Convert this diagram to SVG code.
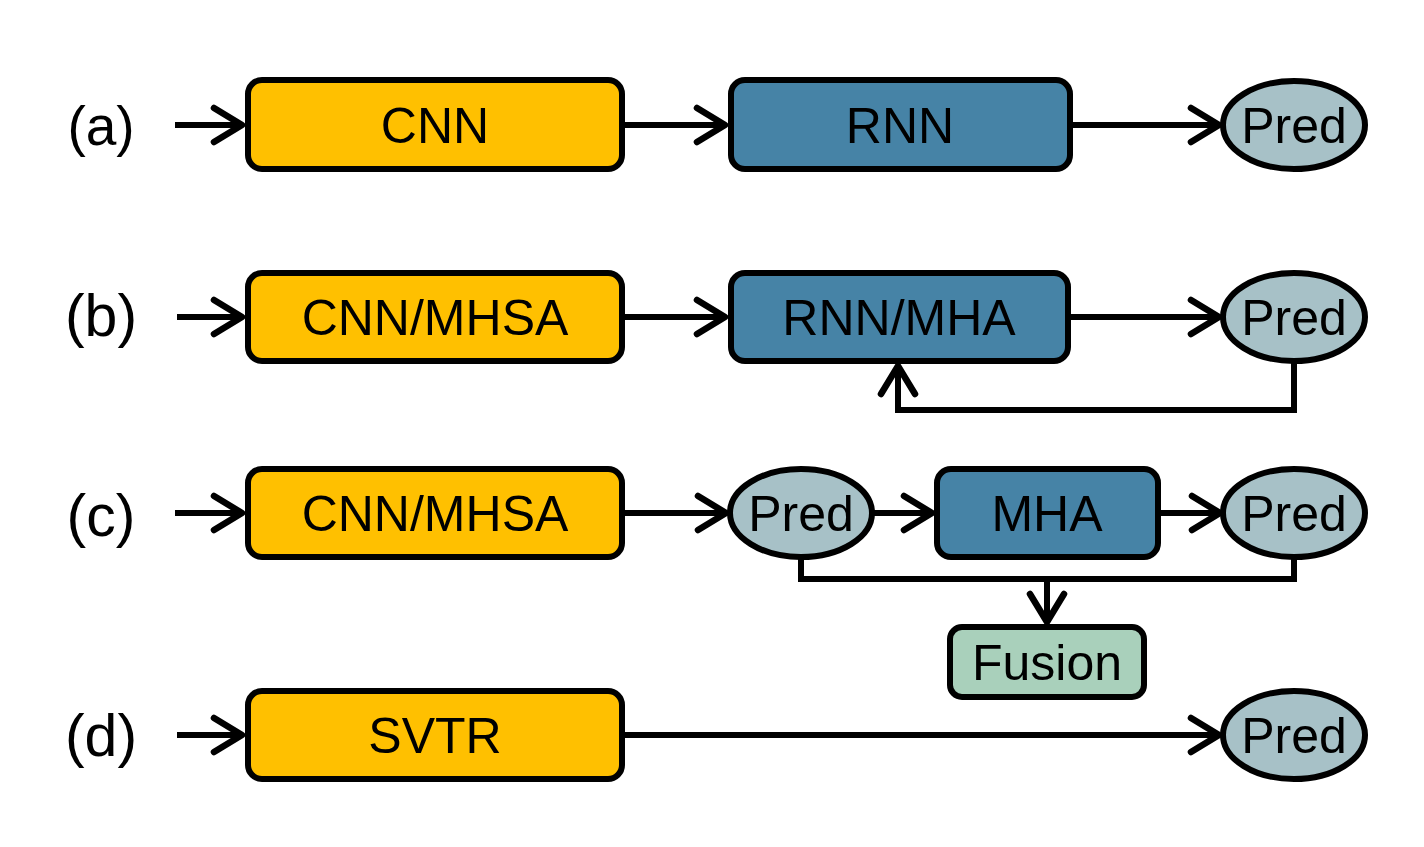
<svg xmlns="http://www.w3.org/2000/svg" width="1424" height="847" viewBox="0 0 1424 847">
<style>
.box{stroke:#000;stroke-width:6}
.y{fill:#FFC000}
.b{fill:#4683A6}
.p{fill:#A7C1C7;stroke:#000;stroke-width:6}
.f{fill:#A9D0BB}
.t{font-family:"Liberation Sans",Arial,sans-serif;font-size:50px;fill:#000;text-anchor:middle}
.lab{font-family:"Liberation Sans",Arial,sans-serif;font-size:59px;fill:#000;text-anchor:middle}
.c{fill:none;stroke:#000;stroke-width:6}
</style>
<defs>
<marker id="arr" markerUnits="userSpaceOnUse" markerWidth="60" markerHeight="60" refX="0" refY="0" orient="auto" overflow="visible">
<path d="M-28,-17 L0,0 L-28,17" fill="none" stroke="#000" stroke-width="6.5" stroke-linecap="round" stroke-linejoin="round"/>
</marker>
</defs>
<rect width="1424" height="847" fill="#fff"/>

<g id="labels">
<text class="lab" x="101" y="145" style="font-size:55px">(a)</text>
<text class="lab" x="101" y="336">(b)</text>
<text class="lab" x="101" y="536">(c)</text>
<text class="lab" x="101" y="756">(d)</text>
</g>

<g id="connectors">
<line class="c" x1="175" y1="125" x2="242" y2="125" marker-end="url(#arr)"/>
<line class="c" x1="625" y1="125" x2="725" y2="125" marker-end="url(#arr)"/>
<line class="c" x1="1073" y1="125" x2="1219" y2="125" marker-end="url(#arr)"/>

<line class="c" x1="177" y1="317" x2="242" y2="317" marker-end="url(#arr)"/>
<line class="c" x1="625" y1="317" x2="725" y2="317" marker-end="url(#arr)"/>
<line class="c" x1="1071" y1="317" x2="1219" y2="317" marker-end="url(#arr)"/>
<path class="c" d="M1294,361 V410 H898 V366" marker-end="url(#arr)"/>

<line class="c" x1="175" y1="513" x2="242" y2="513" marker-end="url(#arr)"/>
<line class="c" x1="625" y1="513" x2="726" y2="513" marker-end="url(#arr)"/>
<line class="c" x1="874" y1="513" x2="932" y2="513" marker-end="url(#arr)"/>
<line class="c" x1="1161" y1="513" x2="1220" y2="513" marker-end="url(#arr)"/>
<path class="c" d="M801,558 V579 H1294 V558"/>
<line class="c" x1="1047" y1="579" x2="1047" y2="622" marker-end="url(#arr)"/>

<line class="c" x1="177" y1="735" x2="242" y2="735" marker-end="url(#arr)"/>
<line class="c" x1="625" y1="735" x2="1219" y2="735" marker-end="url(#arr)"/>
</g>

<g id="a-cnn"><rect class="box y" x="248" y="80" width="374" height="89" rx="14"/><text class="t" x="435" y="143">CNN</text></g>
<g id="a-rnn"><rect class="box b" x="731" y="80" width="339" height="89" rx="14"/><text class="t" x="900" y="143">RNN</text></g>
<g id="a-pred"><ellipse class="p" cx="1294" cy="125" rx="71" ry="44"/><text class="t" x="1294" y="143">Pred</text></g>

<g id="b-cnn"><rect class="box y" x="248" y="273" width="374" height="88" rx="14"/><text class="t" x="435" y="335">CNN/MHSA</text></g>
<g id="b-rnn"><rect class="box b" x="731" y="273" width="337" height="88" rx="14"/><text class="t" x="899" y="335">RNN/MHA</text></g>
<g id="b-pred"><ellipse class="p" cx="1294" cy="317" rx="71" ry="44"/><text class="t" x="1294" y="335">Pred</text></g>

<g id="c-cnn"><rect class="box y" x="248" y="469" width="374" height="88" rx="14"/><text class="t" x="435" y="531">CNN/MHSA</text></g>
<g id="c-pred1"><ellipse class="p" cx="801" cy="513" rx="71" ry="44"/><text class="t" x="801" y="531">Pred</text></g>
<g id="c-mha"><rect class="box b" x="937" y="469" width="221" height="88" rx="14"/><text class="t" x="1047" y="531">MHA</text></g>
<g id="c-pred2"><ellipse class="p" cx="1294" cy="513" rx="71" ry="44"/><text class="t" x="1294" y="531">Pred</text></g>
<g id="c-fusion"><rect class="box f" x="950" y="627" width="194" height="70" rx="12"/><text class="t" x="1047" y="680">Fusion</text></g>

<g id="d-svtr"><rect class="box y" x="248" y="691" width="374" height="88" rx="14"/><text class="t" x="435" y="753">SVTR</text></g>
<g id="d-pred"><ellipse class="p" cx="1294" cy="735" rx="71" ry="44"/><text class="t" x="1294" y="753">Pred</text></g>
</svg>
